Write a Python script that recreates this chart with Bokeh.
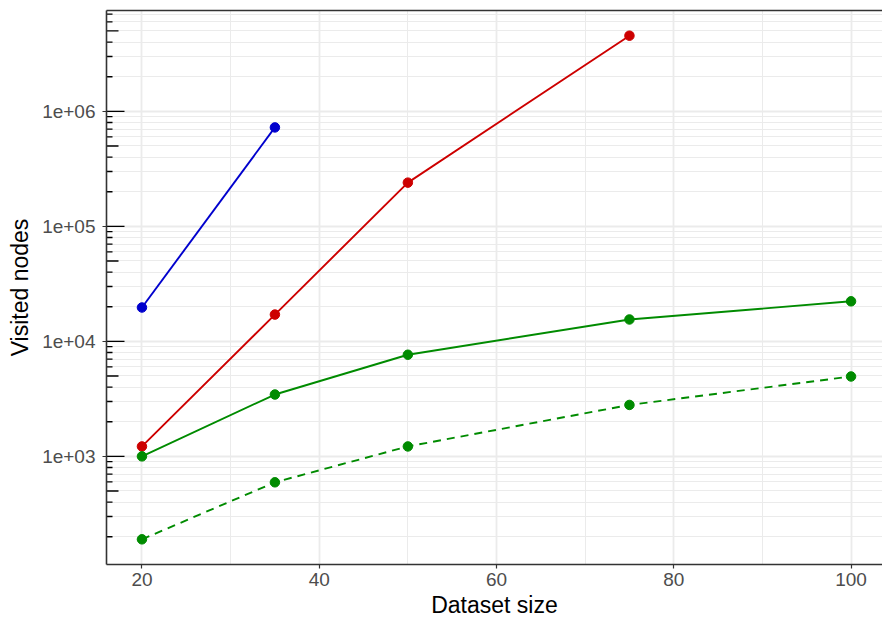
import numpy as np
from bokeh.plotting import figure
from bokeh.models import FixedTicker, Range1d, LinearAxis
from bokeh.embed import file_html
from bokeh.resources import INLINE

# Visited nodes per dataset size, one series per search strategy
size_blue = [20, 35]
nodes_blue = [19700, 725000]

size_red = [20, 35, 50, 75]
nodes_red = [1220, 17100, 240000, 4550000]

size_green = [20, 35, 50, 75, 100]
nodes_green = [1000, 3450, 7650, 15500, 22300]

size_green_dashed = [20, 35, 50, 75, 100]
nodes_green_dashed = [190, 595, 1220, 2800, 4950]

x_ticks = [20, 40, 60, 80, 100]
x_minor = [30, 50, 70, 90]
y_decades = [1e3, 1e4, 1e5, 1e6]
y_labels = ["1e+03", "1e+04", "1e+05", "1e+06"]

FONT = "Liberation Sans"
GRID = "#EBEBEB"
DARK = "#333333"

# y range: log10 span of the data padded by 5% on each side
all_y = np.log10(nodes_blue + nodes_red + nodes_green + nodes_green_dashed)
lo, hi = all_y.min(), all_y.max()
pad = 0.05 * (hi - lo)
y_start, y_end = 10 ** (lo - pad), 10 ** (hi + pad)
x_start, x_end = 16.0, 103.55

p = figure(width=882, height=621, y_axis_type="log",
           x_range=Range1d(x_start, x_end), y_range=Range1d(y_start, y_end),
           output_backend="svg", toolbar_location=None,
           min_border_left=106, min_border_right=0, min_border_top=10,
           min_border_bottom=57)
p.background_fill_color = "white"
p.border_fill_color = "white"
p.outline_line_color = None

# grid
p.xaxis.ticker = FixedTicker(ticks=x_ticks, minor_ticks=x_minor)
log_minor = [m * 10 ** k for k in range(1, 8) for m in range(2, 10)]
log_minor = [v for v in log_minor if y_start <= v <= y_end]
p.yaxis.ticker = FixedTicker(ticks=y_decades, minor_ticks=log_minor)
p.xgrid.ticker = p.xaxis.ticker
p.ygrid.ticker = p.yaxis.ticker
for g in (p.xgrid, p.ygrid):
    g.grid_line_color = GRID
    g.grid_line_width = 1.8
    g.minor_grid_line_color = GRID
    g.minor_grid_line_width = 1.0

# axes
for ax in (p.xaxis, p.yaxis):
    ax.axis_line_color = DARK
    ax.axis_line_width = 1.6
    ax.major_tick_line_color = DARK
    ax.major_tick_line_width = 1.2
    ax.major_tick_out = 4
    ax.major_tick_in = 0
    ax.minor_tick_line_color = None
    ax.major_label_text_font = FONT
    ax.major_label_text_font_size = "19px"
    ax.major_label_text_color = "#4D4D4D"
    ax.axis_label_text_font = FONT
    ax.axis_label_text_font_size = "23px"
    ax.axis_label_text_font_style = "normal"
    ax.axis_label_text_color = "black"

p.xaxis.axis_label = "Dataset size"
p.xaxis.major_label_standoff = 4
p.xaxis.axis_label_standoff = 3
p.yaxis.axis_label = "Visited nodes"
p.yaxis.major_label_standoff = 7
p.yaxis.axis_label_standoff = 6
p.yaxis.major_label_overrides = {d: s for d, s in zip(y_decades, y_labels)}

# top border of the panel
top = LinearAxis(ticker=FixedTicker(ticks=[]), axis_line_color=DARK,
                 axis_line_width=1.6, major_tick_line_color=None,
                 minor_tick_line_color=None, major_label_text_font_size="0px",
                 major_label_standoff=0, axis_label_standoff=0)
p.add_layout(top, "above")

# log ticks along the inside of the left edge
mid_ticks = [5 * d for d in [1e2] + y_decades if y_start <= 5 * d <= y_end]
short_ticks = [v for v in log_minor if v not in mid_ticks]
for vals, length in ((y_decades, 18), (mid_ticks, 12), (short_ticks, 6)):
    p.ray(x=[x_start] * len(vals), y=vals, length=length, length_units="screen",
          angle=0, line_color="black", line_width=1.3)

# series
series = [
    (size_blue, nodes_blue, "#0000CD", "solid"),
    (size_red, nodes_red, "#CD0000", "solid"),
    (size_green, nodes_green, "#008B00", "solid"),
    (size_green_dashed, nodes_green_dashed, "#008B00", "8 6"),
]
for xs, ys, color, dash in series:
    p.line(xs, ys, line_color=color, line_width=1.9, line_dash=dash)
    p.scatter(xs, ys, size=9.5, fill_color=color, line_color=color)

open("out.html", "w").write(file_html(p, INLINE))
